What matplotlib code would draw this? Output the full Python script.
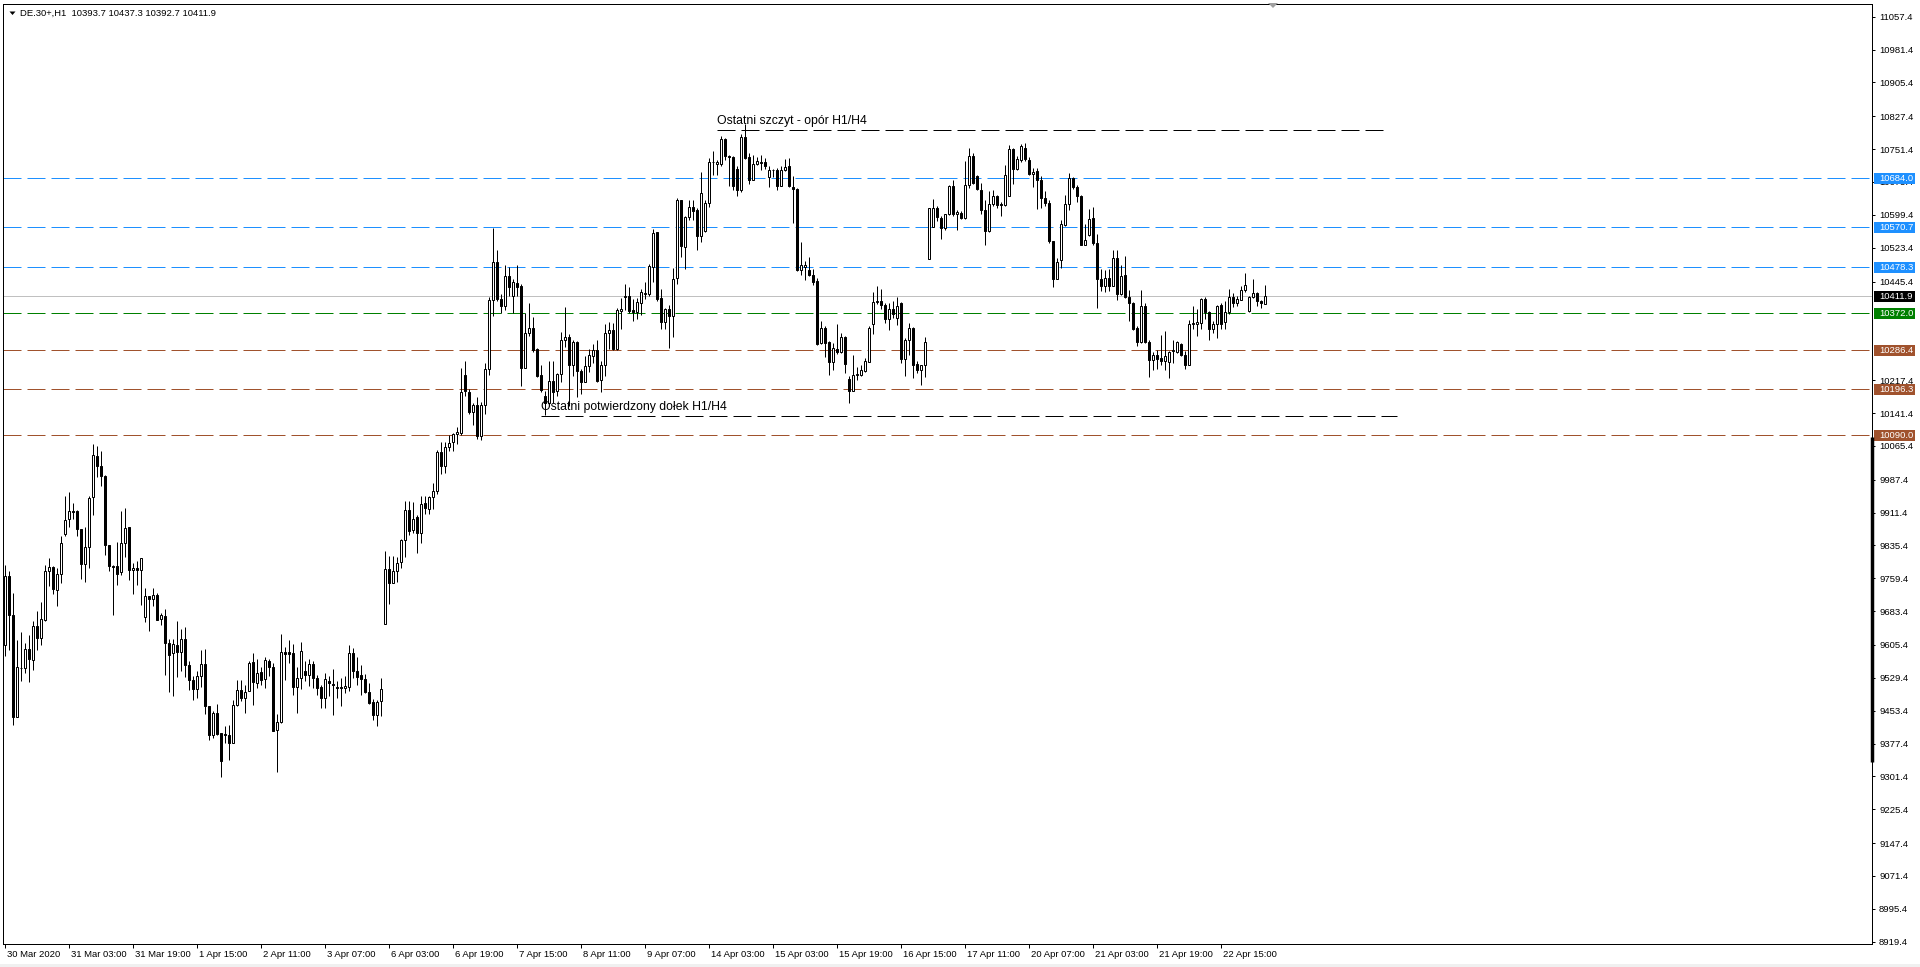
import numpy as np
import matplotlib
matplotlib.use("Agg")
import matplotlib.pyplot as plt
from matplotlib.transforms import blended_transform_factory, IdentityTransform, ScaledTranslation
from matplotlib.patches import Rectangle, Polygon

plt.rcParams['lines.scale_dashes'] = False
plt.rcParams['font.family'] = ['Liberation Sans', 'DejaVu Sans']

# ---------------- data (DE.30+, H1) ----------------
symbol_header = "DE.30+,H1  10393.7 10437.3 10392.7 10411.9"

open_ = [
 9606.0, 9765.5, 9675.3, 9438.8, 9551.3, 9552.0, 9596.0, 9571.3, 9648.4, 9621.4,
 9663.8, 9775.5, 9785.5, 9733.1, 9769.3, 9861.8, 9896.4, 9915.7, 9914.2, 9873.3,
 9792.4, 9831.7, 9946.5, 10042.8, 10019.7, 9996.6, 9837.1, 9788.6, 9787.0, 9773.2,
 9841.0, 9877.2, 9777.8, 9783.2, 9778.0, 9669.2, 9717.7, 9711.5, 9721.6, 9665.3,
 9673.0, 9609.8, 9586.7, 9606.0, 9588.3, 9619.1, 9559.8, 9525.1, 9504.3, 9532.8,
 9561.3, 9465.0, 9396.5, 9448.1, 9401.8, 9400.3, 9398.0, 9378.7, 9467.3, 9502.0,
 9482.7, 9498.1, 9566.0, 9517.4, 9542.8, 9526.6, 9569.0, 9554.4, 9408.0, 9426.5,
 9589.0, 9588.3, 9586.7, 9508.1, 9529.0, 9545.9, 9535.1, 9561.3, 9529.0, 9507.4,
 9482.7, 9522.8, 9515.1, 9508.1, 9507.4, 9505.8, 9508.1, 9586.7, 9545.9, 9536.7,
 9527.4, 9496.6, 9472.7, 9444.2, 9475.0, 9654.2, 9781.4, 9749.6, 9775.8, 9797.3,
 9847.4, 9917.4, 9871.3, 9900.7, 9864.9, 9932.5, 9919.0, 9946.8, 9960.3, 10051.8,
 10018.4, 10062.1, 10074.0, 10092.3, 10095.5, 10229.1, 10189.3, 10144.0, 10159.1, 10088.3,
 10159.1, 10242.6, 10401.7, 10489.9, 10404.0, 10388.1, 10457.3, 10412.0, 10442.2, 10434.3,
 10246.6, 10326.9, 10338.8, 10288.7, 10229.1, 10181.4, 10165.5, 10214.8, 10193.3, 10230.7,
 10310.2, 10316.6, 10253.0, 10304.6, 10239.4, 10213.2, 10249.0, 10272.8, 10287.1, 10217.2,
 10253.0, 10326.1, 10332.5, 10290.3, 10376.2, 10410.4, 10412.0, 10380.2, 10373.8, 10396.1,
 10416.0, 10416.0, 10479.6, 10559.1, 10406.4, 10350.8, 10382.6, 10365.9, 10453.3, 10633.1,
 10524.9, 10594.9, 10618.7, 10610.8, 10551.2, 10563.1, 10626.7, 10720.5, 10716.9, 10716.9,
 10774.7, 10736.2, 10733.1, 10705.4, 10657.6, 10779.3, 10733.1, 10680.7, 10716.9, 10719.2,
 10721.6, 10686.9, 10702.3, 10703.8, 10666.9, 10702.3, 10711.5, 10663.8, 10659.2, 10471.2,
 10478.1, 10472.7, 10461.2, 10445.8, 10303.2, 10337.9, 10304.8, 10259.3, 10290.1, 10281.7,
 10317.1, 10220.8, 10193.1, 10228.5, 10230.0, 10237.7, 10259.3, 10347.1, 10398.0, 10399.5,
 10391.8, 10358.7, 10381.8, 10361.0, 10395.7, 10266.3, 10310.9, 10337.9, 10254.7, 10241.6,
 10251.6, 10497.4, 10571.3, 10615.2, 10592.1, 10569.0, 10601.4, 10666.9, 10601.4, 10603.7,
 10592.1, 10669.2, 10734.7, 10690.0, 10657.6, 10611.4, 10561.3, 10625.3, 10642.2, 10624.5,
 10622.9, 10643.7, 10751.6, 10705.4, 10727.0, 10753.9, 10727.0, 10693.8, 10701.5, 10680.7,
 10638.4, 10626.8, 10538.2, 10451.2, 10495.8, 10576.7, 10625.3, 10684.6, 10663.8, 10643.8,
 10530.5, 10553.6, 10592.1, 10534.4, 10451.9, 10434.2, 10453.5, 10434.2, 10499.7, 10416.5,
 10459.6, 10409.6, 10395.7, 10337.9, 10305.6, 10389.5, 10305.6, 10263.2, 10276.3, 10268.6,
 10260.9, 10258.6, 10285.5, 10281.7, 10300.9, 10274.7, 10253.2, 10347.9, 10347.2, 10349.5,
 10405.7, 10374.1, 10336.4, 10347.2, 10390.3, 10351.0, 10374.1, 10409.6, 10395.7, 10403.4,
 10426.5, 10376.4, 10409.6, 10418.8, 10399.5, 10393.7,
]

high = [
 9790.9, 9775.5, 9725.4, 9616.0, 9634.5, 9609.8, 9629.1, 9661.5, 9684.6, 9704.6,
 9791.0, 9806.3, 9787.0, 9783.2, 9857.9, 9950.4, 9958.1, 9933.4, 9916.5, 9873.3,
 9877.9, 9948.8, 10070.5, 10065.9, 10054.4, 9998.9, 9837.1, 9791.0, 9842.5, 9914.2,
 9921.9, 9878.0, 9794.7, 9798.6, 9806.3, 9737.0, 9717.7, 9737.0, 9725.4, 9679.2,
 9689.2, 9619.1, 9619.1, 9661.5, 9642.2, 9646.1, 9569.0, 9532.8, 9544.4, 9594.4,
 9596.0, 9465.0, 9451.9, 9469.6, 9401.8, 9418.8, 9421.1, 9477.3, 9525.1, 9525.1,
 9513.6, 9569.0, 9586.7, 9572.9, 9554.4, 9576.7, 9572.9, 9563.6, 9446.5, 9631.4,
 9600.6, 9617.6, 9607.5, 9553.6, 9611.4, 9569.0, 9572.9, 9569.0, 9536.7, 9513.6,
 9540.5, 9532.8, 9549.7, 9521.2, 9529.0, 9532.8, 9606.0, 9598.3, 9576.7, 9559.8,
 9538.2, 9517.4, 9480.4, 9477.3, 9529.0, 9822.6, 9810.0, 9810.0, 9807.6, 9851.4,
 9938.8, 9938.8, 9934.9, 9904.6, 9950.8, 9950.8, 9950.8, 9980.2, 10055.7, 10074.0,
 10074.0, 10089.9, 10095.5, 10109.8, 10245.0, 10260.9, 10197.3, 10165.5, 10179.0, 10167.1,
 10256.9, 10409.6, 10569.4, 10519.3, 10416.0, 10483.6, 10479.6, 10451.8, 10483.6, 10439.8,
 10372.2, 10396.1, 10362.7, 10292.7, 10253.0, 10193.3, 10260.9, 10260.9, 10233.1, 10328.5,
 10385.7, 10324.5, 10310.2, 10308.6, 10243.4, 10272.8, 10288.7, 10300.7, 10310.2, 10260.9,
 10346.8, 10352.4, 10348.4, 10384.2, 10408.0, 10439.8, 10431.9, 10405.6, 10408.0, 10427.9,
 10443.8, 10485.1, 10567.1, 10559.1, 10427.9, 10384.2, 10392.1, 10475.6, 10638.6, 10633.1,
 10596.5, 10633.1, 10633.1, 10616.4, 10698.3, 10634.6, 10730.1, 10747.6, 10727.0, 10780.9,
 10777.0, 10738.5, 10734.7, 10711.5, 10787.0, 10810.2, 10742.4, 10738.5, 10733.1, 10737.0,
 10730.8, 10711.5, 10705.4, 10707.7, 10711.5, 10729.3, 10730.8, 10688.4, 10661.5, 10536.7,
 10492.0, 10502.0, 10474.3, 10453.5, 10354.9, 10341.8, 10307.1, 10303.2, 10347.1, 10326.3,
 10320.2, 10227.7, 10276.3, 10247.8, 10253.2, 10268.6, 10341.8, 10420.3, 10435.7, 10428.0,
 10395.7, 10395.7, 10401.1, 10408.8, 10397.2, 10314.8, 10349.5, 10339.4, 10260.9, 10253.2,
 10317.1, 10615.2, 10636.0, 10620.6, 10596.0, 10602.2, 10669.2, 10680.7, 10609.9, 10607.5,
 10723.1, 10753.9, 10742.4, 10692.3, 10673.0, 10634.5, 10653.8, 10656.1, 10646.1, 10628.3,
 10715.4, 10761.6, 10753.9, 10734.7, 10763.9, 10765.5, 10733.1, 10707.7, 10707.7, 10688.4,
 10653.8, 10633.0, 10539.8, 10499.7, 10586.8, 10646.1, 10696.1, 10686.9, 10669.2, 10646.1,
 10578.3, 10613.7, 10617.6, 10555.9, 10474.3, 10472.7, 10474.3, 10519.0, 10519.0, 10484.3,
 10505.1, 10426.5, 10397.2, 10341.8, 10426.5, 10395.7, 10309.4, 10281.7, 10287.8, 10322.5,
 10331.8, 10284.0, 10310.9, 10307.1, 10303.2, 10285.5, 10357.2, 10388.0, 10381.8, 10407.2,
 10408.8, 10376.4, 10353.3, 10391.8, 10395.7, 10399.5, 10428.8, 10418.8, 10411.1, 10435.8,
 10465.0, 10411.1, 10451.2, 10421.1, 10401.9, 10437.3,
]

low = [
 9579.0, 9594.4, 9421.1, 9438.8, 9521.2, 9540.5, 9519.7, 9548.2, 9594.4, 9606.0,
 9660.0, 9742.4, 9723.9, 9694.6, 9748.5, 9856.4, 9877.2, 9896.4, 9856.4, 9758.5,
 9750.1, 9783.2, 9906.5, 9993.5, 9973.5, 9812.5, 9775.5, 9673.8, 9744.7, 9767.8,
 9807.8, 9756.2, 9723.1, 9743.1, 9698.4, 9657.6, 9638.4, 9694.6, 9662.2, 9652.2,
 9536.7, 9495.8, 9486.6, 9531.3, 9544.4, 9531.3, 9502.0, 9477.3, 9482.7, 9507.4,
 9445.7, 9386.4, 9390.3, 9396.5, 9300.1, 9378.7, 9338.7, 9378.7, 9465.0, 9475.0,
 9448.1, 9498.1, 9467.3, 9505.8, 9513.6, 9505.8, 9532.8, 9405.7, 9311.7, 9425.0,
 9525.1, 9563.6, 9488.9, 9448.1, 9503.5, 9521.2, 9509.7, 9505.8, 9490.4, 9459.6,
 9459.6, 9486.6, 9444.2, 9482.7, 9465.0, 9494.3, 9498.1, 9529.0, 9513.6, 9488.9,
 9494.3, 9469.6, 9432.7, 9417.3, 9441.9, 9654.2, 9700.3, 9748.0, 9750.4, 9783.8,
 9807.6, 9859.3, 9864.9, 9817.2, 9841.0, 9907.0, 9908.6, 9919.0, 9954.8, 10000.1,
 10002.5, 10052.6, 10054.2, 10070.1, 10089.9, 10181.4, 10139.2, 10113.8, 10080.4, 10079.6,
 10139.2, 10229.1, 10365.9, 10400.1, 10372.2, 10380.2, 10412.0, 10372.2, 10412.0, 10202.9,
 10245.0, 10319.0, 10282.4, 10225.1, 10189.3, 10137.6, 10157.5, 10165.5, 10181.4, 10213.2,
 10294.3, 10157.5, 10227.5, 10177.4, 10185.4, 10213.2, 10237.0, 10256.9, 10213.2, 10190.9,
 10227.5, 10288.7, 10287.1, 10287.1, 10336.4, 10380.2, 10372.2, 10354.7, 10357.9, 10368.3,
 10405.6, 10412.0, 10443.8, 10400.1, 10334.9, 10336.4, 10292.7, 10318.2, 10439.8, 10501.1,
 10474.0, 10586.9, 10588.5, 10519.3, 10537.6, 10560.7, 10618.7, 10691.9, 10692.3, 10711.5,
 10725.4, 10665.3, 10657.6, 10642.2, 10651.5, 10728.5, 10671.5, 10679.2, 10715.4, 10702.3,
 10705.4, 10663.8, 10686.9, 10657.6, 10665.3, 10700.0, 10663.8, 10580.6, 10468.9, 10461.2,
 10449.6, 10457.3, 10436.5, 10299.4, 10301.7, 10270.1, 10228.5, 10241.6, 10277.8, 10280.1,
 10233.9, 10164.6, 10191.5, 10218.5, 10227.7, 10235.4, 10258.5, 10324.0, 10393.4, 10381.8,
 10349.5, 10334.0, 10361.0, 10344.1, 10257.0, 10226.2, 10276.3, 10222.3, 10233.9, 10206.9,
 10224.6, 10497.4, 10571.3, 10584.4, 10543.6, 10565.2, 10599.8, 10596.0, 10563.6, 10589.8,
 10589.8, 10661.5, 10671.5, 10657.6, 10602.1, 10530.5, 10559.0, 10620.6, 10615.2, 10596.0,
 10619.1, 10643.7, 10671.5, 10703.9, 10720.8, 10723.1, 10692.3, 10663.8, 10612.9, 10615.3,
 10620.6, 10534.4, 10432.7, 10451.2, 10476.6, 10572.9, 10609.9, 10659.2, 10628.4, 10530.5,
 10530.5, 10549.8, 10530.5, 10384.1, 10422.7, 10421.1, 10422.7, 10434.2, 10403.4, 10415.0,
 10407.2, 10353.3, 10334.1, 10295.5, 10303.2, 10303.2, 10224.7, 10241.6, 10243.2, 10253.2,
 10241.6, 10222.4, 10257.0, 10280.1, 10274.0, 10243.2, 10251.6, 10336.4, 10320.2, 10336.4,
 10358.7, 10310.9, 10326.4, 10314.8, 10335.6, 10335.6, 10371.0, 10386.4, 10388.0, 10401.9,
 10420.3, 10374.1, 10407.2, 10388.0, 10384.1, 10392.7,
]

close = [
 9763.9, 9675.3, 9438.8, 9554.4, 9552.8, 9596.0, 9572.9, 9648.4, 9621.4, 9665.3,
 9775.5, 9785.5, 9734.7, 9769.3, 9841.0, 9894.9, 9915.7, 9912.6, 9873.3, 9792.4,
 9831.7, 9945.0, 10045.1, 10019.7, 9995.0, 9835.6, 9787.0, 9785.5, 9770.1, 9841.0,
 9875.6, 9779.3, 9783.2, 9778.0, 9806.3, 9719.2, 9711.5, 9721.6, 9663.8, 9673.8,
 9609.8, 9581.3, 9607.5, 9588.3, 9619.1, 9558.2, 9523.6, 9504.3, 9532.8, 9561.3,
 9463.5, 9396.5, 9448.1, 9400.3, 9336.4, 9396.5, 9378.7, 9467.3, 9502.0, 9482.7,
 9496.6, 9563.6, 9519.7, 9540.5, 9525.1, 9571.3, 9553.6, 9407.2, 9426.5, 9589.0,
 9584.4, 9584.4, 9507.4, 9529.0, 9592.1, 9535.1, 9561.3, 9529.0, 9505.8, 9482.7,
 9526.6, 9517.4, 9512.0, 9505.8, 9505.1, 9511.2, 9586.7, 9544.4, 9531.3, 9526.6,
 9496.6, 9471.2, 9444.2, 9472.7, 9503.5, 9781.2, 9748.0, 9775.8, 9795.7, 9847.4,
 9917.4, 9869.7, 9897.5, 9864.9, 9930.9, 9921.4, 9946.8, 9961.1, 10051.8, 10018.4,
 10062.1, 10071.6, 10092.3, 10097.9, 10189.3, 10193.3, 10144.0, 10159.1, 10088.3, 10159.1,
 10242.6, 10401.7, 10489.9, 10404.0, 10388.1, 10457.3, 10431.9, 10443.8, 10431.9, 10246.6,
 10326.9, 10338.8, 10287.1, 10227.5, 10195.7, 10163.9, 10214.8, 10190.9, 10231.5, 10311.0,
 10316.6, 10253.0, 10304.6, 10239.4, 10213.2, 10249.0, 10275.2, 10287.1, 10215.6, 10253.0,
 10326.1, 10332.5, 10288.7, 10380.2, 10381.8, 10412.0, 10376.2, 10373.8, 10397.7, 10422.3,
 10419.9, 10481.2, 10556.7, 10404.0, 10350.8, 10382.6, 10365.9, 10451.8, 10634.6, 10527.3,
 10594.9, 10618.7, 10609.2, 10551.2, 10649.0, 10626.7, 10720.5, 10722.1, 10720.8, 10774.7,
 10734.7, 10733.1, 10665.3, 10657.6, 10779.3, 10730.8, 10680.7, 10716.9, 10723.1, 10721.6,
 10711.5, 10702.3, 10703.8, 10666.9, 10702.3, 10710.0, 10665.3, 10659.2, 10471.2, 10482.7,
 10482.7, 10459.6, 10443.4, 10301.7, 10337.9, 10303.2, 10259.3, 10291.7, 10281.7, 10317.1,
 10255.5, 10193.1, 10230.0, 10232.4, 10240.1, 10262.4, 10337.9, 10397.2, 10401.1, 10391.8,
 10358.7, 10381.8, 10370.3, 10389.5, 10266.3, 10310.9, 10337.9, 10253.2, 10241.6, 10251.6,
 10305.5, 10615.2, 10615.2, 10594.4, 10569.0, 10601.4, 10666.9, 10602.1, 10605.2, 10592.1,
 10669.2, 10734.7, 10673.0, 10659.2, 10609.9, 10561.3, 10625.3, 10643.7, 10622.9, 10621.4,
 10692.3, 10751.6, 10705.4, 10728.5, 10759.3, 10728.5, 10693.8, 10698.5, 10680.7, 10638.4,
 10626.8, 10538.2, 10451.2, 10490.5, 10578.3, 10625.3, 10684.6, 10663.0, 10643.8, 10530.5,
 10542.1, 10589.8, 10534.4, 10451.9, 10434.2, 10453.5, 10435.8, 10499.7, 10417.3, 10458.9,
 10408.8, 10395.7, 10336.4, 10305.6, 10389.5, 10305.6, 10263.2, 10274.7, 10267.0, 10260.9,
 10274.0, 10282.4, 10287.8, 10304.8, 10274.7, 10253.2, 10347.2, 10349.5, 10351.0, 10405.7,
 10374.1, 10336.4, 10347.9, 10389.5, 10347.9, 10374.1, 10409.6, 10395.7, 10404.9, 10426.5,
 10438.1, 10409.6, 10418.8, 10399.5, 10395.7, 10411.9,
]

time_labels = ["30 Mar 2020", "31 Mar 03:00", "31 Mar 19:00", "1 Apr 15:00", "2 Apr 11:00",
               "3 Apr 07:00", "6 Apr 03:00", "6 Apr 19:00", "7 Apr 15:00", "8 Apr 11:00",
               "9 Apr 07:00", "14 Apr 03:00", "15 Apr 03:00", "15 Apr 19:00", "16 Apr 15:00",
               "17 Apr 11:00", "20 Apr 07:00", "21 Apr 03:00", "21 Apr 19:00", "22 Apr 15:00"]
label_step = 16  # bars between time labels

price_ticks = [11057.4, 10981.4, 10905.4, 10827.4, 10751.4, 10675.4, 10599.4, 10523.4,
               10445.4, 10217.4, 10141.4, 10065.4, 9987.4, 9911.4, 9835.4, 9759.4,
               9683.4, 9605.4, 9529.4, 9453.4, 9377.4, 9301.4, 9225.4, 9147.4,
               9071.4, 8995.4, 8919.4]

resistance_levels = [10684.0, 10570.7, 10478.3]
pivot_level = 10372.0
support_levels = [10286.4, 10196.3, 10090.0]
last_price = 10411.9

top_label = "Ostatni szczyt - opór H1/H4"
top_price = 10796.0
top_span = (178, 344.5)
bottom_label = "Ostatni potwierdzony dołek H1/H4"
bottom_price = 10135.0
bottom_span = (134, 348.0)

y_min, y_max = 8914.2, 11086.8
scale_marker = (9336.0, 10087.0)

# ---------------- figure ----------------
W, H = 1920, 967
fig = plt.figure(figsize=(W / 100, H / 100), dpi=100)
fig.patch.set_facecolor("white")
ax = fig.add_axes([3 / W, 23 / H, 1869 / W, 940 / H])
ax.set_facecolor("white")

n = len(close)
assert len(open_) == n and len(high) == n and len(low) == n, (len(open_), len(high), len(low), n)
x = np.arange(n)
o = np.array(open_); c = np.array(close)
h = np.maximum(np.array(high), np.maximum(o, c))
l = np.minimum(np.array(low), np.minimum(o, c))
up = c >= o

LW = 0.72  # 1 px
dash = (12.96, 4.32)

# level lines
for lv in resistance_levels:
    ax.axhline(lv, color="#1E90FF", lw=LW, dashes=dash, zorder=1)
ax.axhline(pivot_level, color="#008000", lw=LW, dashes=dash, zorder=1)
for lv in support_levels:
    ax.axhline(lv, color="#A0522D", lw=LW, dashes=dash, zorder=1)
ax.axhline(last_price, color="#C0C0C0", lw=LW, zorder=1)

# candles
ax.vlines(x, l, h, color="black", linewidth=LW, zorder=2)
ax.bar(x[up], (c - o)[up], bottom=o[up], width=0.5, facecolor="white",
       edgecolor="black", linewidth=LW, zorder=3)
ax.bar(x[~up], (c - o)[~up], bottom=o[~up], width=0.5, facecolor="black",
       edgecolor="black", linewidth=LW, zorder=3)

# annotation lines + texts
ax.plot(top_span, [top_price, top_price], color="black", lw=LW, dashes=dash, zorder=4)
ax.plot(bottom_span, [bottom_price, bottom_price], color="black", lw=LW, dashes=dash, zorder=4)
ax.annotate(top_label, xy=(top_span[0], top_price), xytext=(0, 4.3), textcoords="offset points",
            ha="left", va="baseline", fontsize=8.8, color="black", zorder=5)
ax.annotate(bottom_label, xy=(bottom_span[0], bottom_price), xytext=(0, 4.3), textcoords="offset points",
            ha="left", va="baseline", fontsize=8.8, color="black", zorder=5)

ax.set_xlim(-0.5, 466.75)
ax.set_ylim(y_min, y_max)

# spines
for s in ax.spines.values():
    s.set_color("black")
    s.set_linewidth(LW)

# price axis
ax.yaxis.tick_right()
ax.set_yticks(price_ticks)
ax.set_yticklabels([f"{v:.1f}" for v in price_ticks])
ax.tick_params(axis="y", direction="out", length=2.2, width=LW, pad=2.9,
               labelsize=6.8, colors="black")

# time axis
ticks_x = [i * label_step for i in range(len(time_labels))]
ax.set_xticks(ticks_x)
ax.set_xticklabels(time_labels)
ax.tick_params(axis="x", direction="out", length=2.9, width=LW, pad=1.6,
               labelsize=6.8, colors="black")
shift = ScaledTranslation(2 / 100, 0, fig.dpi_scale_trans)
for lbl in ax.get_xticklabels():
    lbl.set_ha("left")
    lbl.set_transform(lbl.get_transform() + shift)

# coloured price labels on the scale
blend = blended_transform_factory(IdentityTransform(), ax.transData)
ppu = 940 / (y_max - y_min)
box_h = 11 / ppu
def price_box(val, color):
    ax.add_patch(Rectangle((1874, val - box_h / 2), 41, box_h, transform=blend,
                           facecolor=color, edgecolor="none", clip_on=False, zorder=6))
    ax.text(1879, val, f"{val:.1f}", transform=blend, va="center", ha="left",
            fontsize=6.8, color="white", clip_on=False, zorder=7)
for lv in resistance_levels:
    price_box(lv, "#1E90FF")
price_box(pivot_level, "#008000")
for lv in support_levels:
    price_box(lv, "#A0522D")
price_box(last_price, "black")

# thick marker on the price scale
ax.plot([1872.3, 1872.3], list(scale_marker), transform=blend, color="black", lw=2.5,
        solid_capstyle="butt", clip_on=False, zorder=6)

# header
fig.add_artist(Polygon([[9.5, H - 11.5], [15.5, H - 11.5], [12.5, H - 15.0]], closed=True,
                       transform=IdentityTransform(), facecolor="black", edgecolor="none"))
fig.text(20 / W, 1 - 13.3 / H, symbol_header, ha="left", va="center", fontsize=6.8, color="black")

# chart shift marker
fig.add_artist(Polygon([[1268, H - 3], [1278, H - 3], [1273, H - 8]], closed=True,
                       transform=IdentityTransform(), facecolor="#A0A0A0", edgecolor="none"))

# bottom grey strip
fig.add_artist(Rectangle((0, 0), W, 3, transform=IdentityTransform(), facecolor="#F0F0F0",
                         edgecolor="none"))

fig.savefig("out.png", dpi=100)
